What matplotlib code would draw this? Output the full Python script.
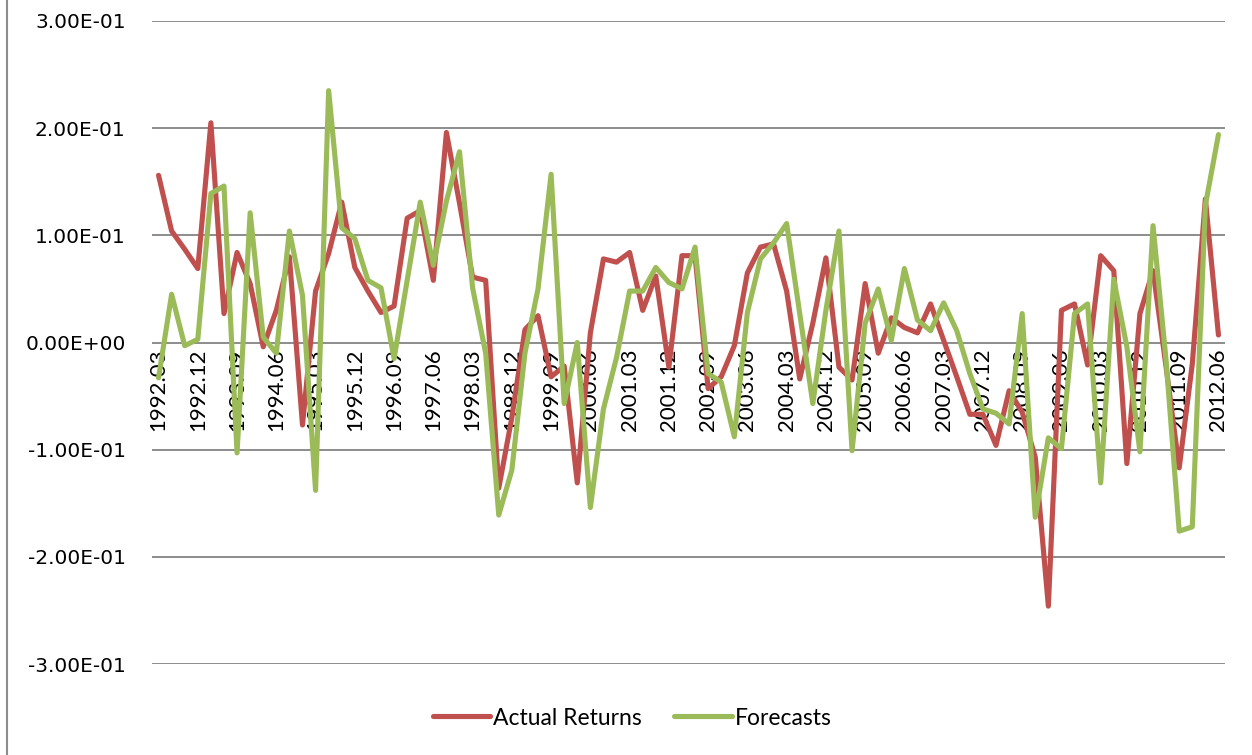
import matplotlib
matplotlib.use("Agg")
import matplotlib.pyplot as plt
from matplotlib.ticker import FuncFormatter, FixedLocator
from matplotlib.lines import Line2D

actual_returns = [
    0.156, 0.104, 0.087, 0.069, 0.205, 0.027, 0.084, 0.055, -0.004, 0.030,
    0.080, -0.077, 0.048, 0.083, 0.131, 0.070, 0.048, 0.028, 0.034, 0.116,
    0.123, 0.058, 0.196, 0.130, 0.061, 0.058, -0.136, -0.070, 0.012, 0.025,
    -0.032, -0.022, -0.131, 0.009, 0.078, 0.075, 0.084, 0.030, 0.062, -0.023,
    0.081, 0.081, -0.043, -0.032, -0.003, 0.065, 0.089, 0.092, 0.048, -0.034,
    0.018, 0.079, -0.023, -0.035, 0.055, -0.010, 0.023, 0.014, 0.009, 0.036,
    0.002, -0.032, -0.067, -0.067, -0.096, -0.045, -0.065, -0.107, -0.246, 0.030,
    0.036, -0.021, 0.081, 0.067, -0.113, 0.027, 0.067, -0.023, -0.117, -0.020,
    0.134, 0.007,
]

forecasts = [
    -0.033, 0.045, -0.003, 0.003, 0.139, 0.146, -0.103, 0.121, 0.005, -0.010,
    0.104, 0.044, -0.138, 0.235, 0.107, 0.097, 0.058, 0.051, -0.015, 0.058,
    0.131, 0.072, 0.132, 0.178, 0.051, -0.010, -0.161, -0.119, -0.010, 0.050,
    0.157, -0.057, 0.000, -0.154, -0.062, -0.014, 0.048, 0.048, 0.070, 0.056,
    0.050, 0.089, -0.029, -0.037, -0.088, 0.028, 0.078, 0.093, 0.111, 0.027,
    -0.057, 0.030, 0.104, -0.101, 0.018, 0.050, 0.002, 0.069, 0.021, 0.011,
    0.037, 0.011, -0.029, -0.062, -0.066, -0.076, 0.027, -0.163, -0.089, -0.099,
    0.027, 0.036, -0.131, 0.059, -0.004, -0.102, 0.109, -0.017, -0.176, -0.172,
    0.128, 0.194,
]

tick_labels = [
    "1992.03", "1992.12", "1993.09", "1994.06", "1995.03", "1995.12", "1996.09",
    "1997.06", "1998.03", "1998.12", "1999.09", "2000.06", "2001.03", "2001.12",
    "2002.09", "2003.06", "2004.03", "2004.12", "2005.09", "2006.06", "2007.03",
    "2007.12", "2008.09", "2009.06", "2010.03", "2010.12", "2011.09", "2012.06",
]
tick_step = 3
y_ticks = [-0.3, -0.2, -0.1, 0.0, 0.1, 0.2, 0.3]

RED = "#C0504D"
GREEN = "#9BBB59"
GRID = "#8C8C8C"

fig = plt.figure(figsize=(12.52, 7.55), dpi=100)
ax = fig.add_axes([152 / 1252, (755 - 664) / 755, (1225 - 152) / 1252, (664 - 21) / 755])

x = list(range(len(actual_returns)))
ax.plot(x, actual_returns, color=RED, lw=3.7, solid_joinstyle="round",
        solid_capstyle="round", label="Actual Returns", zorder=3)
ax.plot(x, forecasts, color=GREEN, lw=3.7, solid_joinstyle="round",
        solid_capstyle="round", label="Forecasts", zorder=4)

ax.set_xlim(-0.5, len(actual_returns) - 0.5)
ax.set_ylim(-0.3, 0.3)
ax.set_yticks(y_ticks)
ax.yaxis.set_major_formatter(FuncFormatter(lambda v, p: f"{v:.2E}"))
ax.grid(axis="y", color=GRID, lw=1.4)
ax.set_axisbelow(True)

for s in ["top", "right", "left"]:
    ax.spines[s].set_visible(False)
ax.spines["bottom"].set_position(("data", 0))
ax.spines["bottom"].set_color("none")

ax.xaxis.set_major_locator(FixedLocator([i * tick_step for i in range(len(tick_labels))]))
ax.set_xticklabels(tick_labels, rotation=90, fontsize=16, family="Lato", va="top", ha="center")
ax.tick_params(axis="x", length=0, pad=4)
ax.tick_params(axis="y", length=0, pad=19, labelsize=14.5)
for t in ax.get_yticklabels():
    t.set_family("DejaVu Sans")

leg = fig.legend(loc="center", bbox_to_anchor=(0.505, 0.049), ncol=2, frameon=False,
                 prop={"family": "Lato", "size": 16.5}, handlelength=2.5,
                 handletextpad=0.15, columnspacing=1.4)

fig.add_artist(Line2D([7 / 1252, 7 / 1252], [0, 1], color="#8C8C8C", lw=1.5))

fig.savefig("out.png", dpi=100)
